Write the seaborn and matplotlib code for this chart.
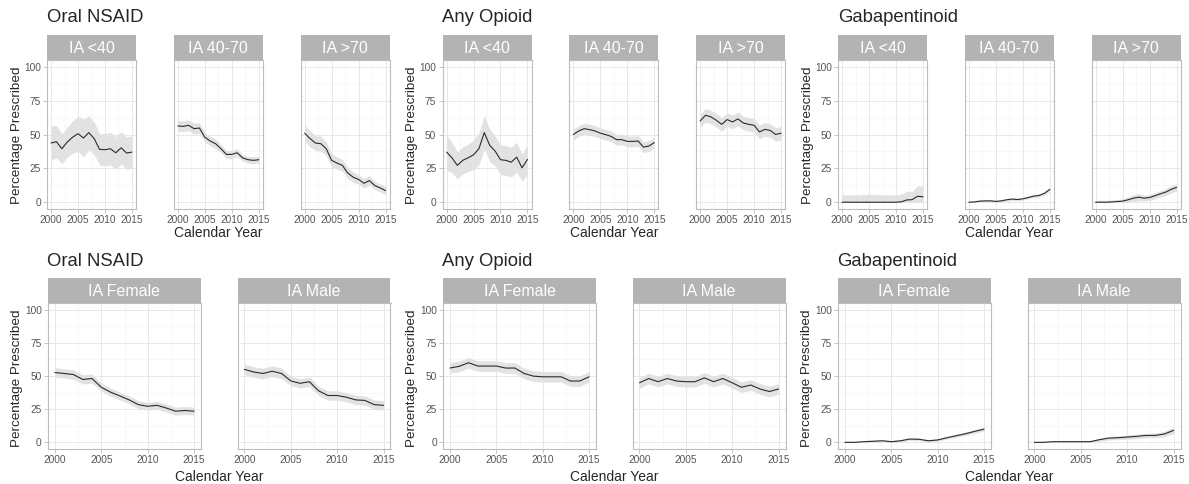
import numpy as np
import pandas as pd
import seaborn as sns
import matplotlib.pyplot as plt
from matplotlib.ticker import MultipleLocator

sns.set_theme(style="white")
plt.rcParams['font.family'] = ['Liberation Sans', 'DejaVu Sans']

years = list(range(2000, 2016))

# estimates (% prescribed) and half-width of the confidence band
nsaid_age_est = {
    "IA <40": [43.7, 44.7, 39.5, 44.4, 48, 50.6, 47.4, 51.4, 47, 39, 38.8, 39.5, 36.5, 40.2, 36.3, 37],
    "IA 40-70": [56.3, 56, 56.8, 54.3, 54.8, 48, 45.2, 43.2, 39.5, 35.3, 35.3, 36.5, 32.8, 31.4, 30.9, 31.4],
    "IA >70": [51, 47, 43.7, 43.2, 39.5, 30.9, 28.9, 27.2, 21.5, 18.5, 16.8, 14, 16, 12.3, 10.6, 8.6],
}
nsaid_age_ci = {
    "IA <40": [12.5, 12, 11, 11, 12, 13, 14, 12.5, 12, 11.5, 12, 12, 12, 12, 12, 12],
    "IA 40-70": [4, 4, 4, 4, 4, 3.5, 3.5, 3.5, 3, 3, 3, 3, 2.5, 2.5, 2.5, 2.5],
    "IA >70": [6, 6, 5.5, 5.5, 5, 5, 4.5, 4.5, 4, 4, 3.5, 3.5, 3.5, 3, 3, 3],
}
opioid_age_est = {
    "IA <40": [37, 32.8, 27.2, 30.9, 32.8, 35, 39.5, 51.4, 42, 37.8, 31.4, 30.9, 29.6, 33.3, 25.4, 31.6],
    "IA 40-70": [50, 52.6, 54.3, 53.6, 52.6, 51, 49.9, 48.6, 46.2, 46.2, 44.9, 44.9, 45.2, 40.7, 41.5, 44],
    "IA >70": [60, 64.2, 63, 60.5, 57.5, 61, 59.3, 61.5, 58.5, 57.5, 56.8, 51.9, 53.8, 53, 50, 51],
}
opioid_age_ci = {
    "IA <40": [13, 11, 10, 10, 10, 11, 12, 12.5, 12, 11, 11, 11, 11, 11, 10, 11],
    "IA 40-70": [4, 4, 4, 4, 4, 4, 4, 4, 4, 4, 4, 4, 4, 4, 4, 4],
    "IA >70": [5, 5, 5, 5, 5, 5, 5, 5, 5, 5, 5, 5, 5, 5, 5, 5],
}
gaba_age_est = {
    "IA <40": [0, 0, 0, 0, 0, 0, 0, 0, 0, 0, 0, 0.3, 1.7, 1.9, 4.4, 4],
    "IA 40-70": [0, 0.2, 0.8, 1, 1, 0.6, 1, 1.8, 2.3, 2, 2.5, 3.5, 4.5, 5, 6.5, 9.5],
    "IA >70": [0, 0, 0, 0.2, 0.5, 0.8, 1.8, 3, 3.7, 3, 3.5, 4.8, 6.2, 7.5, 9.5, 11],
}
gaba_age_ci = {
    "IA <40": [5.4, 5.4, 5.5, 5.5, 5.8, 5.8, 5.6, 5.5, 5.5, 5.5, 5.5, 5.7, 6.3, 6.1, 7.6, 8],
    "IA 40-70": [0.8, 0.8, 0.9, 0.9, 0.9, 0.9, 0.9, 1, 1, 1, 1, 1.1, 1.1, 1.2, 1.3, 1.5],
    "IA >70": [1.5, 1.5, 1.5, 1.5, 1.5, 1.8, 2.2, 2.6, 2.6, 2.2, 2.2, 2.3, 2.4, 2.5, 2.6, 2.7],
}

nsaid_sex_est = {
    "IA Female": [52.6, 51.9, 51.1, 47.4, 48.1, 41.5, 37.8, 35, 32, 28.4, 27.2, 27.9, 25.9, 23.5, 24, 23.5],
    "IA Male": [55, 53, 51.9, 53.6, 51.9, 46.3, 44.5, 45.7, 38.8, 35.3, 35.3, 34, 32, 31.6, 28.4, 27.9],
}
nsaid_sex_ci = {
    "IA Female": [3.5, 3.5, 3.5, 3.5, 3.5, 3, 3, 3, 3, 3, 3, 3, 3, 3, 3, 3],
    "IA Male": [4, 4, 4, 4, 4, 3.5, 3.5, 3.5, 3.5, 3.5, 3.5, 3.5, 3.5, 3.5, 3.5, 3.5],
}
opioid_sex_est = {
    "IA Female": [56, 57.3, 60, 57.5, 57.5, 57.5, 56, 56, 51.9, 49.9, 49.4, 49.4, 49.4, 46.2, 46.2, 49.4],
    "IA Male": [44.9, 48.1, 45.7, 48.1, 46.2, 45.7, 45.7, 48.6, 45.7, 48.1, 44.9, 41.5, 43.2, 40.2, 38.3, 40.2],
}
opioid_sex_ci = {
    "IA Female": [4, 4, 4, 4, 4, 4, 4, 4, 4, 4, 4, 4, 4, 4, 4, 4],
    "IA Male": [4, 4, 4, 4, 4, 4, 4, 4, 4, 4, 4, 4, 4, 4, 4, 4],
}
gaba_sex_est = {
    "IA Female": [0, 0, 0.5, 0.8, 1.2, 0.5, 1.2, 2.5, 2.3, 1.2, 1.8, 3.5, 5, 6.5, 8.3, 10],
    "IA Male": [0, 0, 0.5, 0.5, 0.5, 0.5, 0.5, 2, 3.2, 3.5, 4, 4.5, 5.2, 5.2, 6.3, 9],
}
gaba_sex_ci = {
    "IA Female": [0.8, 0.8, 0.8, 0.9, 0.9, 0.9, 1, 1, 1, 1, 1, 1.1, 1.2, 1.3, 1.4, 1.5],
    "IA Male": [0.8, 0.8, 0.8, 0.8, 0.8, 0.8, 0.9, 1.2, 1.4, 1.5, 1.6, 1.7, 1.8, 1.8, 2, 2.5],
}

drug_titles = ["Oral NSAID", "Any Opioid", "Gabapentinoid"]

W, H = 1189, 484
fig = plt.figure(figsize=(W / 100, H / 100), dpi=100)
fig.patch.set_facecolor('white')

GRAY_BORDER = '#BDBDBD'
STRIP = '#B3B3B3'


def px_axes(x0, x1, y0, y1):
    return fig.add_axes([x0 / W, 1 - y1 / H, (x1 - x0) / W, (y1 - y0) / H])


def draw_panel(x0, x1, strip_top, ax_top, ax_bot, label, est, half, first):
    ax = px_axes(x0, x1, ax_top, ax_bot)
    est = np.array(est, dtype=float)
    half = np.array(half, dtype=float)
    lo = np.clip(est - half, 0, None)
    hi = est + half
    ax.fill_between(years, lo, hi, color='#E2E2E2', lw=0, zorder=2)
    df = pd.DataFrame({'year': years, 'pct': est})
    sns.lineplot(data=df, x='year', y='pct', color='#2b2b2b', lw=0.8, ax=ax, zorder=3)
    ax.set_xlim(1999.25, 2015.75)
    ax.set_ylim(-5, 105)
    ax.set_xlabel('')
    ax.set_ylabel('')
    ax.xaxis.set_major_locator(MultipleLocator(5))
    ax.xaxis.set_minor_locator(MultipleLocator(2.5))
    ax.yaxis.set_major_locator(MultipleLocator(25))
    ax.yaxis.set_minor_locator(MultipleLocator(12.5))
    ax.grid(which='major', color='#E4E4E4', lw=0.6, zorder=0)
    ax.grid(which='minor', color='#F1F1F1', lw=0.4, zorder=0)
    ax.set_axisbelow(True)
    for s in ax.spines.values():
        s.set_color(GRAY_BORDER)
        s.set_linewidth(0.8)
    ax.tick_params(axis='both', which='major', length=3, width=0.6, color=GRAY_BORDER,
                   labelsize=7.3, labelcolor='#555555', pad=1.5,
                   bottom=True, left=True)
    ax.tick_params(which='minor', length=0)
    if not first:
        ax.tick_params(axis='y', left=False, labelleft=False)

    sax = px_axes(x0, x1, strip_top, ax_top)
    sax.set_facecolor(STRIP)
    sax.set_xticks([])
    sax.set_yticks([])
    for s in sax.spines.values():
        s.set_visible(False)
    sax.text(0.5, 0.45, label, color='white', fontsize=11.5, ha='center', va='center',
             transform=sax.transAxes)
    return ax


# top row: age groups
top_groups = [(nsaid_age_est, nsaid_age_ci), (opioid_age_est, opioid_age_ci), (gaba_age_est, gaba_age_ci)]
for g, (est_d, ci_d) in enumerate(top_groups):
    off = 47 + g * 395.5
    for i, lab in enumerate(est_d):
        x0 = off + i * 126.8
        draw_panel(x0, x0 + 89, 35, 60, 209, lab, est_d[lab], ci_d[lab], i == 0)
    fig.text(off / W, 1 - 18 / H, drug_titles[g], fontsize=13.3, ha='left', va='center')
    fig.text((off + 126.8 + 44.5) / W, 1 - 233 / H, 'Calendar Year', fontsize=10,
             ha='center', va='center')
    fig.text((off - 30) / W, 1 - 135 / H, 'Percentage Prescribed', fontsize=9.7,
             rotation=90, ha='center', va='center')

# bottom row: sex groups
bot_groups = [(nsaid_sex_est, nsaid_sex_ci), (opioid_sex_est, opioid_sex_ci), (gaba_sex_est, gaba_sex_ci)]
for g, (est_d, ci_d) in enumerate(bot_groups):
    off = 48 + g * 395
    for i, lab in enumerate(est_d):
        x0 = off + i * 189.5
        draw_panel(x0, x0 + 153, 278, 303, 449, lab, est_d[lab], ci_d[lab], i == 0)
    fig.text((off - 1) / W, 1 - 262 / H, drug_titles[g], fontsize=13.3, ha='left', va='center')
    fig.text((off + 171) / W, 1 - 477 / H, 'Calendar Year', fontsize=10,
             ha='center', va='center')
    fig.text((off - 31) / W, 1 - 378 / H, 'Percentage Prescribed', fontsize=9.7,
             rotation=90, ha='center', va='center')

plt.savefig('out.png', dpi=100, facecolor='white')
plt.close()
